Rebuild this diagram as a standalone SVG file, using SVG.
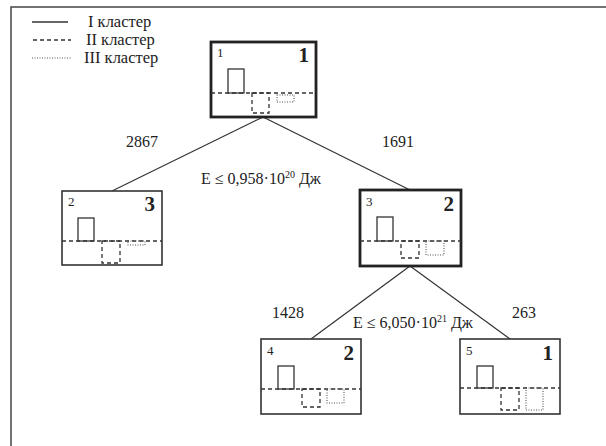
<svg xmlns="http://www.w3.org/2000/svg" width="606" height="446" viewBox="0 0 606 446">
<style>
text{font-family:"Liberation Serif","Times New Roman",serif;fill:#222}
.lab{font-size:16px}
.leg{font-size:16.5px}
.id{font-size:13px}
.big{font-size:21px;font-weight:bold;text-anchor:end}
.frame{fill:none;stroke:#444;stroke-width:1.5}
.thin{fill:#fff;stroke:#333;stroke-width:1.6}
.thick{fill:#fff;stroke:#222;stroke-width:2.8}
.c1{fill:none;stroke:#333;stroke-width:1.3}
.c2{fill:none;stroke:#333;stroke-width:1.3;stroke-dasharray:4 3}
.c3{fill:none;stroke:#555;stroke-width:1.1;stroke-dasharray:1 1.5}
.conn{stroke:#333;stroke-width:1.2;fill:none}
</style>
<rect class="frame" x="11" y="7" width="620" height="460"/>
<g id="legend">
<line class="c1" x1="32" y1="22" x2="68" y2="22"/>
<line class="c2" x1="33" y1="40" x2="71" y2="40"/>
<line class="c3" x1="32" y1="58" x2="72" y2="58"/>
<text class="leg" x="88" y="27">I кластер</text>
<text class="leg" x="86" y="45">II кластер</text>
<text class="leg" x="84" y="63">III кластер</text>
</g>
<g id="connectors">
<line class="conn" x1="263" y1="117" x2="112" y2="191"/>
<line class="conn" x1="263" y1="117" x2="410" y2="190"/>
<line class="conn" x1="410" y1="266" x2="311" y2="339"/>
<line class="conn" x1="410" y1="266" x2="510" y2="339"/>
</g>
<g id="labels">
<text class="lab" x="126" y="147">2867</text>
<text class="lab" x="382" y="147">1691</text>
<text class="lab" x="201" y="184">E ≤ 0,958·10<tspan font-size="10" dy="-6">20</tspan><tspan dy="6"> Дж</tspan></text>
<text class="lab" x="272" y="318">1428</text>
<text class="lab" x="512" y="318">263</text>
<text class="lab" x="353" y="328">E ≤ 6,050·10<tspan font-size="10" dy="-6">21</tspan><tspan dy="6"> Дж</tspan></text>
</g>
<g id="node1">
<rect class="thick" x="211" y="42" width="105" height="75"/>
<text class="id" x="217" y="57">1</text>
<text class="big" x="309" y="62">1</text>
<rect class="c1" x="228" y="69" width="16" height="24"/>
<line class="c2" x1="211" y1="93" x2="316" y2="93"/>
<rect class="c2" x="252" y="93" width="17" height="20"/>
<rect class="c3" x="277" y="95" width="17" height="7"/>
</g>
<g id="node2">
<rect class="thin" x="62" y="191" width="100" height="74"/>
<text class="id" x="68" y="206">2</text>
<text class="big" x="155" y="211">3</text>
<rect class="c1" x="78" y="218" width="16" height="23"/>
<line class="c2" x1="62" y1="241" x2="162" y2="241"/>
<rect class="c2" x="102" y="241" width="18" height="22"/>
<rect class="c3" x="128" y="241" width="17" height="4"/>
</g>
<g id="node3">
<rect class="thick" x="360" y="190" width="101" height="76"/>
<text class="id" x="366" y="206">3</text>
<text class="big" x="454" y="211">2</text>
<rect class="c1" x="377" y="217" width="16" height="24"/>
<line class="c2" x1="360" y1="241" x2="461" y2="241"/>
<rect class="c2" x="401" y="241" width="18" height="17"/>
<rect class="c3" x="426" y="241" width="18" height="14"/>
</g>
<g id="node4">
<rect class="thin" x="261" y="339" width="100" height="75"/>
<text class="id" x="267" y="355">4</text>
<text class="big" x="354" y="360">2</text>
<rect class="c1" x="278" y="366" width="16" height="23"/>
<line class="c2" x1="261" y1="389" x2="361" y2="389"/>
<rect class="c2" x="302" y="389" width="18" height="18"/>
<rect class="c3" x="327" y="389" width="17" height="14"/>
</g>
<g id="node5">
<rect class="thin" x="460" y="339" width="100" height="75"/>
<text class="id" x="466" y="355">5</text>
<text class="big" x="553" y="360">1</text>
<rect class="c1" x="477" y="366" width="16" height="22"/>
<line class="c2" x1="460" y1="388" x2="560" y2="388"/>
<rect class="c2" x="501" y="388" width="18" height="22"/>
<rect class="c3" x="526" y="388" width="17" height="22"/>
</g>
</svg>
